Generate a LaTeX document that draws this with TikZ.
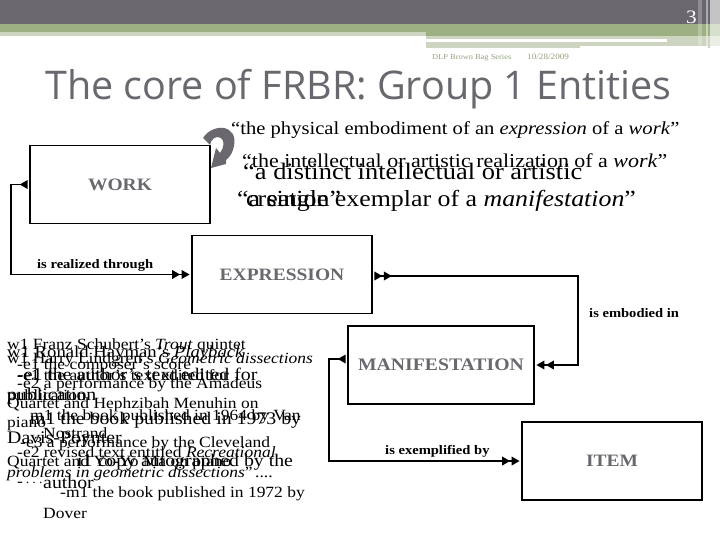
\documentclass[tikz,border=0pt]{standalone}
\usepackage{fontspec}
\setmainfont{Liberation Serif}[FakeStretch=1.12]
\newfontfamily\titlefont{Open Sans}
\usetikzlibrary{arrows.meta}
\definecolor{slate}{HTML}{6B676E}
\definecolor{sage}{HTML}{9DB083}
\definecolor{palesage}{HTML}{CDD5C0}
\tikzset{
    entity/.style={draw=black,line width=1.7pt,fill=white,minimum width=#1,minimum height=78pt,inner sep=0pt,text=slate,font=\fontsize{17.4}{17.4}\selectfont\bfseries},
    lbl/.style={anchor=base west,inner sep=0pt,text=black},
    small/.style={lbl,font=\fontsize{15.6}{15.6}\selectfont},
    big/.style={lbl,font=\fontsize{17.7}{17.7}\selectfont},
    rel/.style={lbl,font=\fontsize{13}{13}\selectfont\bfseries},
    >={Triangle[length=8pt,width=8.5pt,sep=1.5pt]},
    relation/.style={line width=1.8pt,black,{>>}-{>>}}
}
\begin{document}
\begin{tikzpicture}[x=1pt,y=-1pt,line join=miter]
    \useasboundingbox (0,0) rectangle (720,540);
    % header bands
    \fill [slate] (0,0) rectangle (720,24);
    \fill [sage] (0,24) rectangle (720,32);
    \fill [palesage] (0,32) rectangle (426,36);
    \fill [sage] (426,32) rectangle (720,36);
    \fill [palesage] (426,36) rectangle (720,46);
    \fill [white] (426,39) rectangle (667,42);
    \fill [palesage] (426,46) rectangle (580,48);
    \fill [white,opacity=0.25] (698,0) rectangle (702,46);
    \fill [white,opacity=0.45] (706,0) rectangle (708,46);
    \fill [white,opacity=0.6] (710,0) rectangle (720,46);
    \fill [palesage] (708,46) rectangle (710,48);
    \node [lbl,text=white,font=\fontsize{19}{19}\selectfont] (pagenum) at (686,24) {3};
    \node [lbl,text=sage!80!slate,font=\fontsize{7.5}{7.5}\selectfont] (series) at (432,60) {DLP Brown Bag Series};
    \node [lbl,text=sage!80!slate,font=\fontsize{8.2}{8.2}\selectfont] (date) at (527,60) {10/28/2009};
    \node [lbl,text=slate,font=\titlefont\fontsize{39.5}{39.5}\selectfont] (title) at (45,100) {The core of FRBR: Group 1 Entities};
    % entities
    \node [entity=180pt] (work) at (120,184.5) {WORK};
    \node [entity=180pt] (expression) at (282,274.5) {EXPRESSION};
    \node [entity=186pt,font=\fontsize{17.6}{17.6}\selectfont\bfseries] (manifestation) at (441,365) {MANIFESTATION};
    \node [entity=180pt] (item) at (612,461) {ITEM};
    % relations
    \draw [line width=1.8pt,{>}-{>>}] (work.west) -- ++(-18,0) |- (expression.west);
    \draw [relation] ([yshift=-1.5pt]expression.east) -- ++(205,0) |- (manifestation.east);
    \draw [line width=1.8pt,{>}-{>>}] ([yshift=6pt]manifestation.west) -- ++(-18,0) |- (item.west);
    \node [rel] (realized) at (37,268) {is realized through};
    \node [rel] (embodied) at (589,317) {is embodied in};
    \node [rel] (exemplified) at (385,454) {is exemplified by};
    % curved arrow next to the work box
    \fill [slate] (203,138) .. controls (208,130) and (217,127) .. (224,128)
        .. controls (232,130) and (236,136) .. (234,146)
        .. controls (233,152) and (230,157) .. (226,160)
        -- (226,164) -- (211,168) -- (216,148) -- (220,153)
        .. controls (224,148) and (225,141) .. (221,138)
        .. controls (216,135) and (211,139) .. (210,145) -- cycle;
    % definitions
    \node [lbl,font=\fontsize{18.4}{18.4}\selectfont] (physical) at (231,135) {“the physical embodiment of an \emph{expression} of a \emph{work}”};
    \node [lbl,font=\fontsize{19.6}{19.6}\selectfont] (realization) at (242,168) {“the intellectual or artistic realization of a \emph{work}”};
    \node [lbl,font=\fontsize{23.6}{23.6}\selectfont] (distinct) at (243,180) {“a distinct intellectual or artistic};
    \node [lbl,font=\fontsize{23.1}{23.1}\selectfont] (creation) at (246,207) {creation”};
    \node [lbl,font=\fontsize{23.1}{23.1}\selectfont] (exemplar) at (237,207) {“a single exemplar of a \emph{manifestation}”};
    % examples
    \node [small] (franz) at (7,349) {w1 Franz Schubert’s \emph{Trout} quintet};
    \node [lbl,font=\fontsize{16.7}{16.7}\selectfont] (ronald) at (7,357) {w1 Ronald Hayman’s \emph{Playback}};
    \node [small] (harry) at (7,363) {w1 Harry Lindgren’s \emph{Geometric dissections}};
    \node [small] (score) at (17,369) {-e1 the composer’s score};
    \node [big] (authorone) at (17,380) {-e1 the author’s text edited for};
    \node [small] (authortwo) at (17,380) {-e1 the author’s text edited for};
    \node [small] (amadeus) at (17,388) {-e2 a performance by the Amadeus};
    \node [big] (pubone) at (7,400) {publication};
    \node [small] (pubtwo) at (7,400) {publication};
    \node [small] (hephzibah) at (7,408) {Quartet and Hephzibah Menuhin on};
    \node [small] (vannostrand) at (30,420) {m1 the book published in 1964 by Van};
    \node [big] (poynter) at (30,424) {m1 the book published in 1973 by};
    \node [small] (piano) at (7,427) {piano};
    \node [small] (nostrand) at (43,438) {Nostrand};
    \node [big] (davis) at (7,443) {Davis-Poynter};
    \node [small] (cleveland) at (20,447) {-e3 a performance by the Cleveland};
    \node [small] (revised) at (17,457) {-e2 revised text entitled \emph{Recreational}};
    \node [small] (yoyo) at (7,466) {Quartet and Yo-Yo Ma on piano};
    \node [big] (copy) at (77,466) {i1 copy autographed by the};
    \node [small] (problems) at (7,477) {\emph{problems in geometric dissections}”\,....};
    \node [small] (dots) at (17,486) {-\,$\cdot$\,$\cdot$\,$\cdot$};
    \node [big] (author) at (43,488) {author};
    \node [small] (dover) at (60,497) {-m1 the book published in 1972 by};
    \node [small] (doverline) at (43,518) {Dover};
\end{tikzpicture}
\end{document}
